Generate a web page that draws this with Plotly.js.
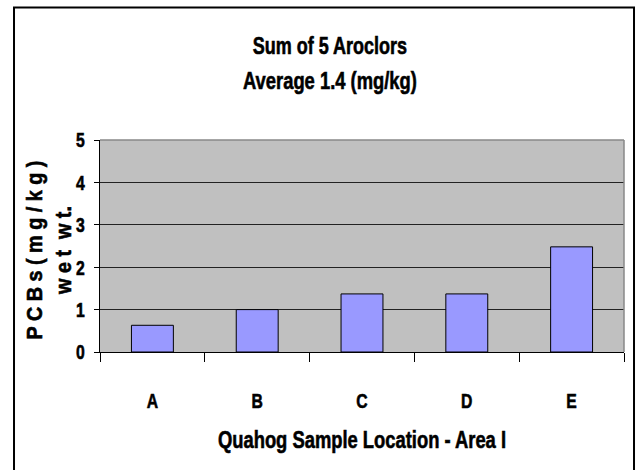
<!DOCTYPE html>
<html>
<head>
<meta charset="utf-8">
<script src="https://cdn.plot.ly/plotly-3.0.1.min.js"></script>
<style>html,body{margin:0;padding:0;background:#fff;}#chart{width:638px;height:470px;}</style>
</head>
<body>
<div id="chart"></div>
<script>
const categories = ['A', 'B', 'C', 'D', 'E'];
const pcbValues = [0.63, 1.0, 1.37, 1.37, 2.48];
const titleLines = ['Sum of 5 Aroclors', 'Average 1.4 (mg/kg)'];
const xTitle = 'Quahog Sample Location - Area I';
const yTitleLines = ['P C B s ( m g / k g )', 'w e t  w t.'];
const yTicks = [0, 1, 2, 3, 4, 5];

const FONT = '"Liberation Sans", Arial, sans-serif';
const NARROW = 0.75;
const NARROW_Y = 0.9;

const trace = {
  type: 'bar',
  x: categories,
  y: pcbValues,
  width: 0.4,
  marker: {color: '#9999ff', line: {color: '#000000', width: 1}},
  hoverinfo: 'none'
};

const layout = {
  width: 638,
  height: 470,
  margin: {l: 100, r: 14, t: 140, b: 117.5, pad: 0},
  paper_bgcolor: '#ffffff',
  plot_bgcolor: '#c0c0c0',
  showlegend: false,
  font: {family: FONT, color: '#000', size: 17, weight: 'bold'},
  xaxis: {
    type: 'category',
    tickson: 'boundaries',
    ticks: 'outside',
    ticklen: 9,
    tickcolor: '#000',
    tickwidth: 1,
    showgrid: false,
    showline: true,
    linecolor: '#000',
    linewidth: 1,
    tickfont: {family: FONT, size: 21, color: '#000', weight: 'bold'},
    ticklabelstandoff: 30,
    title: {text: '<b>' + xTitle + '</b>', font: {family: FONT, size: 24.5, color: '#000'}, standoff: 19}
  },
  yaxis: {
    range: [0, 5],
    tickvals: yTicks,
    ticks: 'outside',
    ticklen: 5,
    tickcolor: '#000',
    showgrid: true,
    gridcolor: '#222',
    gridwidth: 1,
    zeroline: false,
    showline: true,
    linecolor: '#000',
    linewidth: 1,
    tickfont: {family: FONT, size: 21, color: '#000', weight: 'bold'},
    ticklabelstandoff: 5,
    title: {text: '<b>' + yTitleLines.join('</b><br><b>') + '</b>', font: {family: FONT, size: 22, color: '#000'}, standoff: 1}
  },
  annotations: [
    {text: '<b>' + titleLines[0] + '</b>', xref: 'paper', yref: 'paper', x: 0.4389, y: 1.445, xanchor: 'center', yanchor: 'middle', showarrow: false, font: {family: FONT, size: 24, color: '#000'}},
    {text: '<b>' + titleLines[1] + '</b>', xref: 'paper', yref: 'paper', x: 0.4389, y: 1.28, xanchor: 'center', yanchor: 'middle', showarrow: false, font: {family: FONT, size: 24.5, color: '#000'}}
  ],
  shapes: [
    {type: 'line', xref: 'paper', yref: 'paper', x0: 0, x1: 1, y0: 1, y1: 1, line: {color: '#888', width: 1.5}, layer: 'above'},
    {type: 'line', xref: 'paper', yref: 'paper', x0: 1, x1: 1, y0: 0, y1: 1, line: {color: '#888', width: 1.5}, layer: 'above'},
    {type: 'rect', xref: 'paper', yref: 'paper', x0: -0.1641, x1: 1.0191, y0: -0.565, y1: 1.625, line: {color: '#000', width: 2}, fillcolor: 'rgba(0,0,0,0)', layer: 'above'}
  ]
};

function squeeze(nodes, s, shift) {
  nodes.forEach(function (t) {
    const x = parseFloat(t.getAttribute('x')) || 0;
    const y = parseFloat(t.getAttribute('y')) || 0;
    const existing = t.getAttribute('transform') || '';
    t.setAttribute('transform', (shift || '') + ' ' + existing + ' translate(' + x + ',' + y + ') scale(' + s + ',1) translate(' + (-x) + ',' + (-y) + ')');
    t.style.stroke = '#000';
    t.style.strokeWidth = '0.6px';
  });
}

Plotly.newPlot('chart', [trace], layout, {staticPlot: true, displayModeBar: false}).then(function (gd) {
  squeeze(gd.querySelectorAll('.xtick text, .ytick text, .annotation-text, .g-xtitle text'), NARROW);
  squeeze(gd.querySelectorAll('.g-ytitle text'), NARROW_Y, 'translate(6,4)');
});
</script>
</body>
</html>
